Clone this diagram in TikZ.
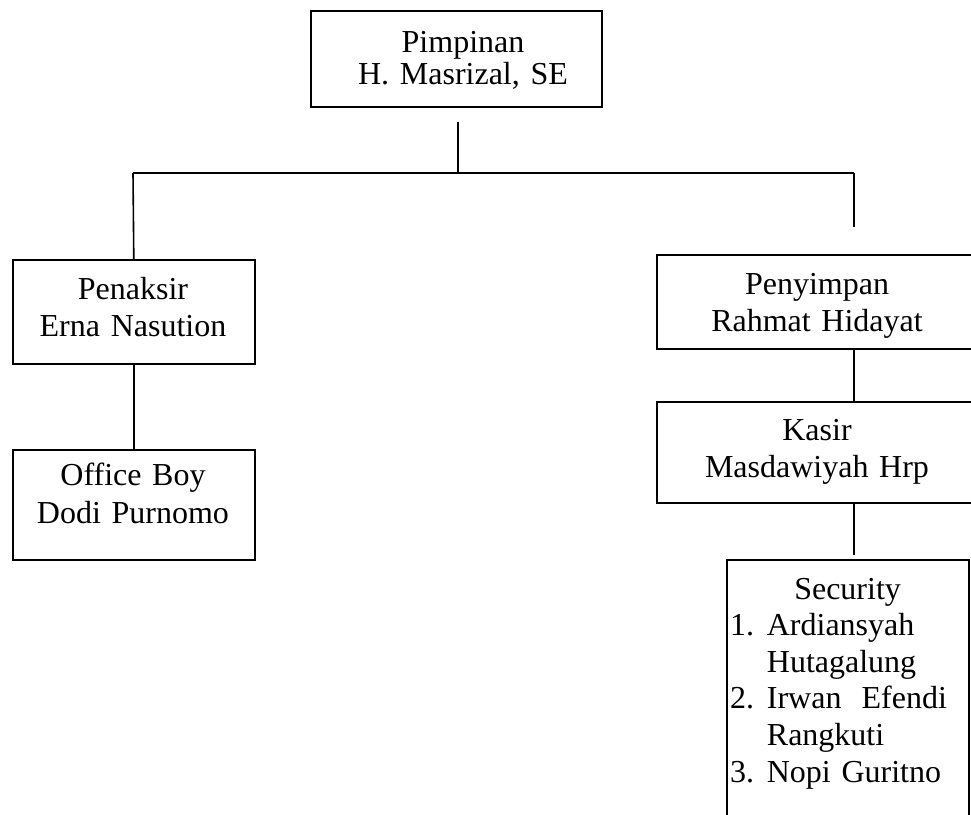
\documentclass[tikz,border=0pt]{standalone}
\usepackage{fontspec}
\setmainfont{Liberation Serif}
\frenchspacing
\begin{document}
\begin{tikzpicture}[x=1pt,y=-1pt,
  box/.style={draw,line width=1.6pt,inner sep=0pt,anchor=north west},
  txt/.style={inner sep=0pt,anchor=base,text width=300pt,align=center},
  conn/.style={line width=1.6pt}]
\useasboundingbox (0,0) rectangle (971,814);
\clip (0,0) rectangle (971,814);
% boxes
\node[box,minimum width=291pt,minimum height=96pt] (top) at (310,10) {};
\node[box,minimum width=242pt,minimum height=104pt] (penaksir) at (12,259) {};
\node[box,minimum width=242pt,minimum height=110pt] (office) at (12,449) {};
\node[box,minimum width=340pt,minimum height=94pt] (penyimpan) at (656,254) {};
\node[box,minimum width=340pt,minimum height=101pt] (kasir) at (656,401) {};
\node[box,minimum width=242pt,minimum height=300pt] (security) at (726,559) {};
% texts
\node[txt,font={\fontsize{32}{32.5}\selectfont\frenchspacing}] (ttop) at (463,52) {Pimpinan\\H. Masrizal, SE};
\node[txt,font={\fontsize{32}{37.4}\selectfont}] (tpenaksir) at (133,299) {Penaksir\\Erna Nasution};
\node[txt,font={\fontsize{32}{38}\selectfont}] (toffice) at (133,485) {Office Boy\\Dodi Purnomo};
\node[txt,font={\fontsize{32}{37}\selectfont}] (tpenyimpan) at (817,294) {Penyimpan\\Rahmat Hidayat};
\node[txt,font={\fontsize{32}{37}\selectfont}] (tkasir) at (817,440) {Kasir\\Masdawiyah Hrp};
\node[inner sep=0pt,anchor=base west,text width=240pt,align=left,font={\fontsize{32}{36.6}\selectfont}] (tsecurity) at (730,599)
  {\makebox[234.8pt]{Security}\\
   \makebox[36.7pt][l]{1.}Ardiansyah\\
   \hspace*{36.7pt}Hutagalung\\
   \makebox[36.7pt][l]{2.}\hbox to 180pt{Irwan\hfill Efendi}\\
   \hspace*{36.7pt}Rangkuti\\
   \makebox[36.7pt][l]{3.}Nopi Guritno};
% connector points
\coordinate (c1) at (458,122);
\coordinate (hj) at (458,173);
\coordinate (hl) at (133,173);
\coordinate (hr) at (854,173);
\coordinate (rend) at (854,227);
\coordinate (secend) at (854,555);
% connectors
\draw[conn] (c1) -- (hj);
\draw[conn] (hl) -- (hr);
\draw[conn] (hl) -- (penaksir.north);
\draw[conn] (hr) -- (rend);
\draw[conn] (penaksir.south) -- (office.north);
\draw[conn] (penyimpan.south -| hr) -- (kasir.north -| hr);
\draw[conn] (kasir.south -| hr) -- (secend);
\end{tikzpicture}
\end{document}
